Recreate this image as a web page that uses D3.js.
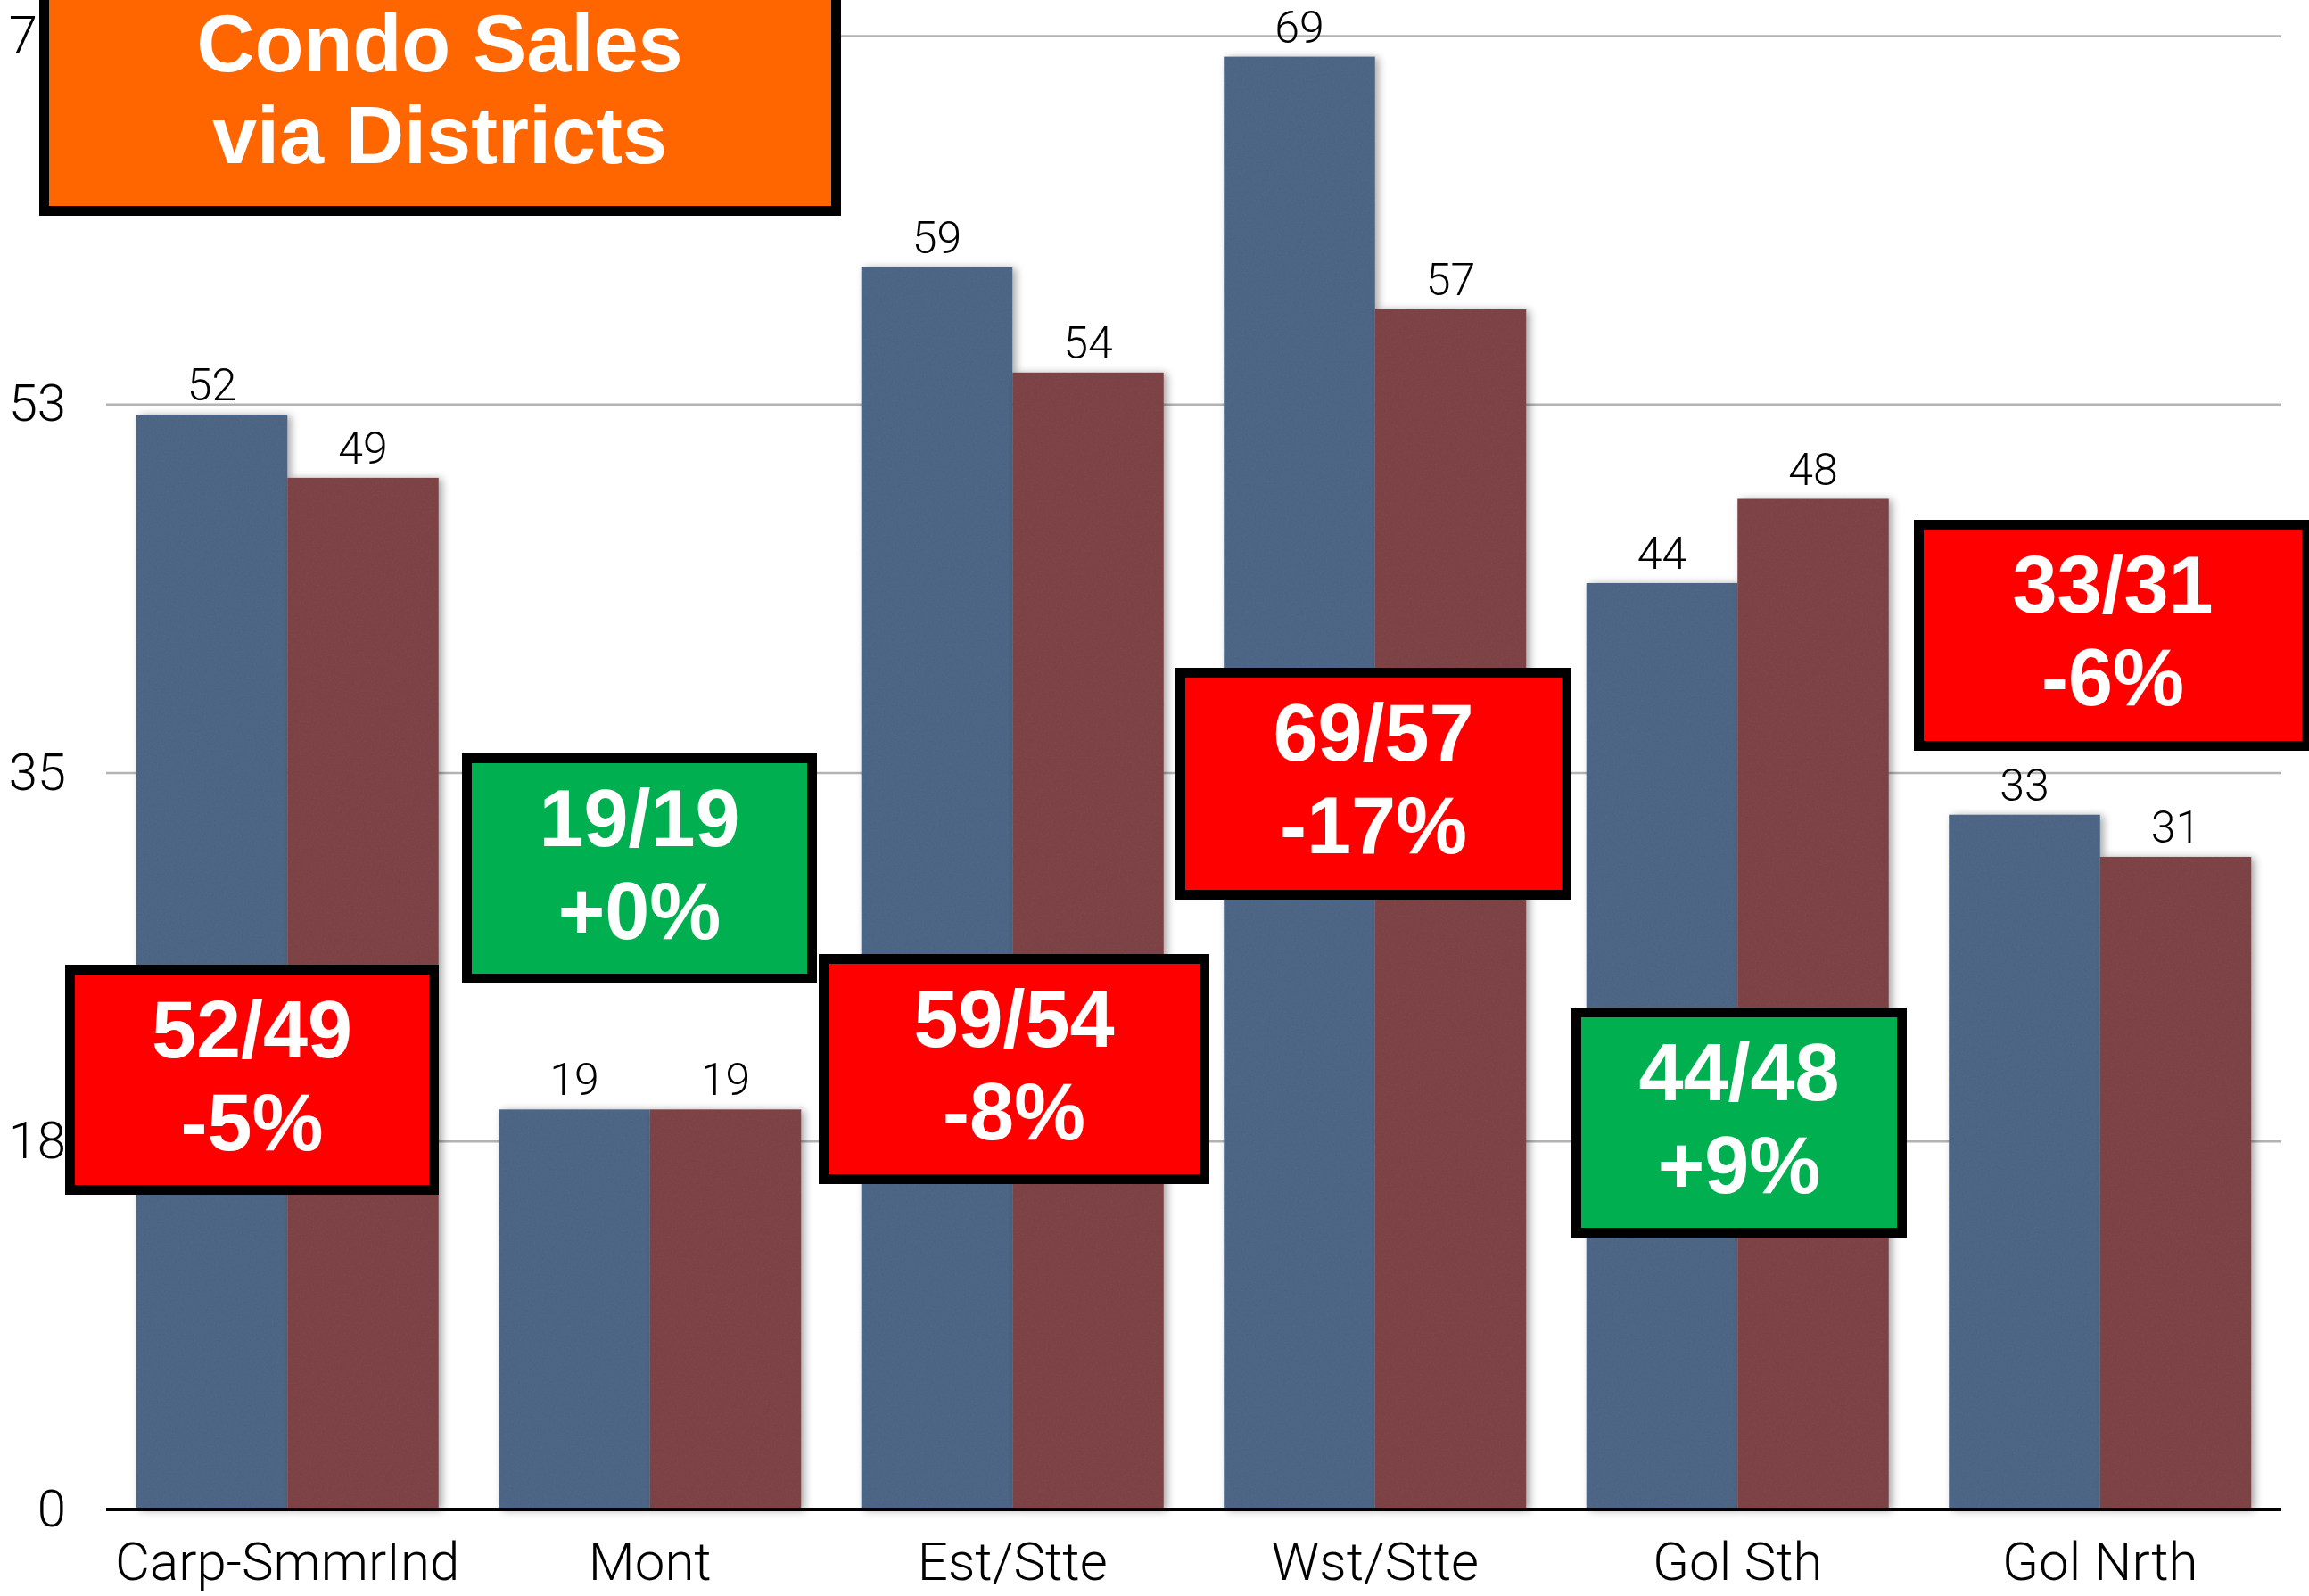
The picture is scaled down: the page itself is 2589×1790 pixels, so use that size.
<!DOCTYPE html>
<html>
<head>
<meta charset="utf-8">
<script src="https://cdn.jsdelivr.net/npm/d3@7"></script>
<style>
  html, body { margin: 0; padding: 0; background: #fff; overflow: hidden; }
  svg { display: block; }
</style>
</head>
<body>
<svg id="chart" width="2589" height="1790"></svg>
<script>
// ---------- data ----------
const categories = ["Carp-SmmrInd", "Mont", "Est/Stte", "Wst/Stte", "Gol Sth", "Gol Nrth"];
const seriesPrev = [52, 19, 59, 69, 44, 33];   // blue
const seriesCurr = [49, 19, 54, 57, 48, 31];   // red
const pctLabels = ["-5%", "+0%", "-8%", "-17%", "+9%", "-6%"];
const yTickValues = [0, 17.5, 35, 52.5, 70];
const yTickLabels = ["0", "18", "35", "53", "70"];
const titleLines = ["Condo Sales", "via Districts"];

// ---------- layout ----------
const W = 2589, H = 1790;
const plot = { left: 119, right: 2558, top: 40, bottom: 1693 };
const colors = { prev: "#516a8b", curr: "#824749", up: "#00b050", down: "#ff0000", title: "#ff6600" };
// annotation boxes: [x, y, width, height] in pixels
const boxLayout = [
  [73, 1082, 419, 258],
  [518, 845, 398, 258],
  [918, 1070, 438, 258],
  [1318, 749, 444, 260],
  [1762, 1130, 376, 258],
  [2146, 583, 446, 259]
];

const svg = d3.select("#chart");
const defs = svg.append("defs");

// bar shadow + texture
const f = defs.append("filter").attr("id", "barfx")
  .attr("x", "-10%").attr("y", "-5%").attr("width", "125%").attr("height", "110%");
f.append("feTurbulence").attr("type", "fractalNoise").attr("baseFrequency", "0.55")
  .attr("numOctaves", 3).attr("seed", 4).attr("result", "noise");
f.append("feColorMatrix").attr("in", "noise").attr("type", "matrix")
  .attr("values", "0 0 0 0 0  0 0 0 0 0  0 0 0 0 0  0 0 0 0.16 0").attr("result", "dark");
f.append("feComposite").attr("in", "dark").attr("in2", "SourceGraphic").attr("operator", "in").attr("result", "tex");
f.append("feMerge").call(m => { m.append("feMergeNode").attr("in", "SourceGraphic"); m.append("feMergeNode").attr("in", "tex"); })
  .attr("result", "textured");
f.append("feGaussianBlur").attr("in", "SourceAlpha").attr("stdDeviation", 5).attr("result", "blur");
f.append("feOffset").attr("in", "blur").attr("dx", 4).attr("dy", 1).attr("result", "ob");
f.append("feComponentTransfer").attr("in", "ob").attr("result", "shadow")
  .append("feFuncA").attr("type", "linear").attr("slope", 0.35);
f.append("feMerge").call(m => { m.append("feMergeNode").attr("in", "shadow"); m.append("feMergeNode").attr("in", "textured"); });

// ---------- scales ----------
const x = d3.scaleBand().domain(categories).range([plot.left, plot.right])
  .paddingInner(0.166).paddingOuter(0.083);
const xSub = d3.scaleBand().domain(["prev", "curr"]).range([0, x.bandwidth()]).padding(0);
const y = d3.scaleLinear().domain([0, 70]).range([plot.bottom, plot.top]);

const lightFont = "Roboto, 'Helvetica Neue', 'Liberation Sans', Arial, sans-serif";
const boldFont = "'Liberation Sans', Arial, Helvetica, sans-serif";

// ---------- grid ----------
const grid = svg.append("g").attr("transform", `translate(${plot.left},0)`)
  .call(d3.axisLeft(y).tickValues(yTickValues.slice(1)).tickSize(-(plot.right - plot.left)).tickFormat(""));
grid.select(".domain").remove();
grid.selectAll("line").attr("stroke", "#b3b3b3").attr("stroke-width", 2.5);

// y tick labels
const yAxis = svg.append("g").attr("transform", `translate(${plot.left},0)`)
  .call(d3.axisLeft(y).tickValues(yTickValues).tickSize(0).tickPadding(45)
    .tickFormat((d, i) => yTickLabels[i]));
yAxis.select(".domain").remove();
yAxis.selectAll("text").attr("font-family", lightFont).attr("font-weight", 300)
  .attr("font-size", 58).attr("fill", "#000");

// ---------- bars ----------
const rows = categories.map((c, i) => ({ cat: c, vals: [
  { key: "prev", v: seriesPrev[i] }, { key: "curr", v: seriesCurr[i] }] }));

const groups = svg.append("g").selectAll("g").data(rows).join("g")
  .attr("transform", d => `translate(${x(d.cat)},0)`);
groups.selectAll("rect").data(d => d.vals).join("rect")
  .attr("x", d => xSub(d.key))
  .attr("y", d => y(d.v))
  .attr("width", xSub.bandwidth())
  .attr("height", d => y(0) - y(d.v))
  .attr("fill", d => colors[d.key])
  .attr("filter", "url(#barfx)");

// value labels
groups.selectAll("text.val").data(d => d.vals).join("text").attr("class", "val")
  .attr("x", d => xSub(d.key) + xSub.bandwidth() / 2)
  .attr("y", d => y(d.v) - 16)
  .attr("text-anchor", "middle")
  .attr("font-family", lightFont).attr("font-weight", 300).attr("font-size", 50)
  .attr("fill", "#000")
  .text(d => d.v);

// baseline
svg.append("line").attr("x1", plot.left).attr("x2", plot.right)
  .attr("y1", y(0)).attr("y2", y(0)).attr("stroke", "#000").attr("stroke-width", 4);

// x axis labels
const xAxis = svg.append("g").attr("transform", `translate(0,${plot.bottom})`)
  .call(d3.axisBottom(x).tickSize(0).tickPadding(0));
xAxis.select(".domain").remove();
xAxis.selectAll("text").attr("dy", 0).attr("y", 79)
  .attr("font-family", lightFont).attr("font-weight", 300).attr("font-size", 60).attr("fill", "#000");

// ---------- annotation boxes ----------
const ann = svg.append("g").selectAll("g").data(categories).join("g")
  .attr("transform", (d, i) => `translate(${boxLayout[i][0]},${boxLayout[i][1]})`);
ann.append("rect")
  .attr("x", 5.5).attr("y", 5.5)
  .attr("width", (d, i) => boxLayout[i][2] - 11)
  .attr("height", (d, i) => boxLayout[i][3] - 11)
  .attr("fill", (d, i) => seriesCurr[i] >= seriesPrev[i] ? colors.up : colors.down)
  .attr("stroke", "#000").attr("stroke-width", 11);
ann.append("text")
  .attr("x", (d, i) => boxLayout[i][2] / 2).attr("y", 104)
  .attr("text-anchor", "middle").attr("font-family", boldFont).attr("font-weight", 700)
  .attr("font-size", 90).attr("fill", "#fff")
  .text((d, i) => `${seriesPrev[i]}/${seriesCurr[i]}`);
ann.append("text")
  .attr("x", (d, i) => boxLayout[i][2] / 2).attr("y", 208)
  .attr("text-anchor", "middle").attr("font-family", boldFont).attr("font-weight", 700)
  .attr("font-size", 90).attr("fill", "#fff")
  .text((d, i) => pctLabels[i]);

// ---------- title box ----------
const tb = svg.append("g");
tb.append("rect").attr("x", 49.5).attr("y", -30).attr("width", 888).attr("height", 266.5)
  .attr("fill", colors.title).attr("stroke", "#000").attr("stroke-width", 11);
tb.selectAll("text").data(titleLines).join("text")
  .attr("x", 493).attr("y", (d, i) => 80 + i * 103)
  .attr("text-anchor", "middle").attr("font-family", boldFont).attr("font-weight", 700)
  .attr("font-size", 90).attr("fill", "#fff")
  .text(d => d);
</script>
</body>
</html>
